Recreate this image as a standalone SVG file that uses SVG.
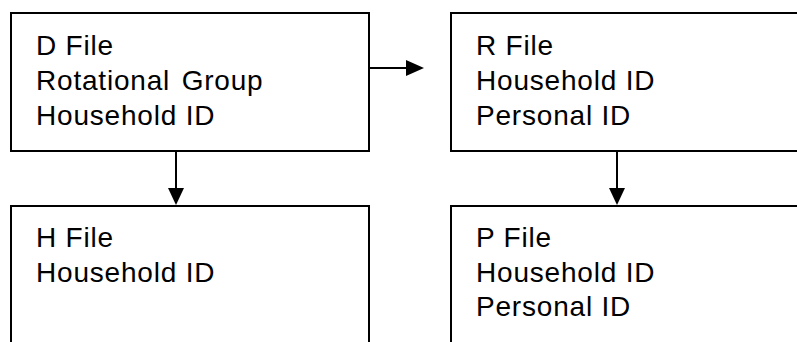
<svg xmlns="http://www.w3.org/2000/svg" width="797" height="342" viewBox="0 0 797 342">
<style>
.box{fill:#fff;stroke:#000;stroke-width:2}
.t{font-family:"Liberation Sans",Arial,sans-serif;font-size:28px;letter-spacing:0.8px;fill:#000}
.c{stroke:#000;stroke-width:2;fill:none}
</style>
<rect width="797" height="342" fill="#fff"/>
<g id="connectors">
<line class="c" x1="370" y1="68" x2="406" y2="68"/>
<path d="M406,60 L424,68 L406,76 z" fill="#000"/>
<line class="c" x1="176" y1="152" x2="176" y2="188"/>
<path d="M168,188 L176,205 L184,188 z" fill="#000"/>
<line class="c" x1="617" y1="152" x2="617" y2="188"/>
<path d="M609,188 L617,205 L625,188 z" fill="#000"/>
</g>
<g id="dfile">
<rect class="box" x="11" y="13" width="358" height="138"/>
<text class="t" x="36" y="55">D File</text>
<text class="t" x="36" y="90" word-spacing="3">Rotational Group</text>
<text class="t" x="36" y="125">Household ID</text>
</g>
<g id="rfile">
<rect class="box" x="451" y="13" width="360" height="138"/>
<text class="t" x="476" y="55">R File</text>
<text class="t" x="476" y="90">Household ID</text>
<text class="t" x="476" y="125">Personal ID</text>
</g>
<g id="hfile">
<rect class="box" x="11" y="206" width="358" height="150"/>
<text class="t" x="36" y="247">H File</text>
<text class="t" x="36" y="282">Household ID</text>
</g>
<g id="pfile">
<rect class="box" x="451" y="206" width="360" height="150"/>
<text class="t" x="476" y="247">P File</text>
<text class="t" x="476" y="282">Household ID</text>
<text class="t" x="476" y="316">Personal ID</text>
</g>
</svg>
